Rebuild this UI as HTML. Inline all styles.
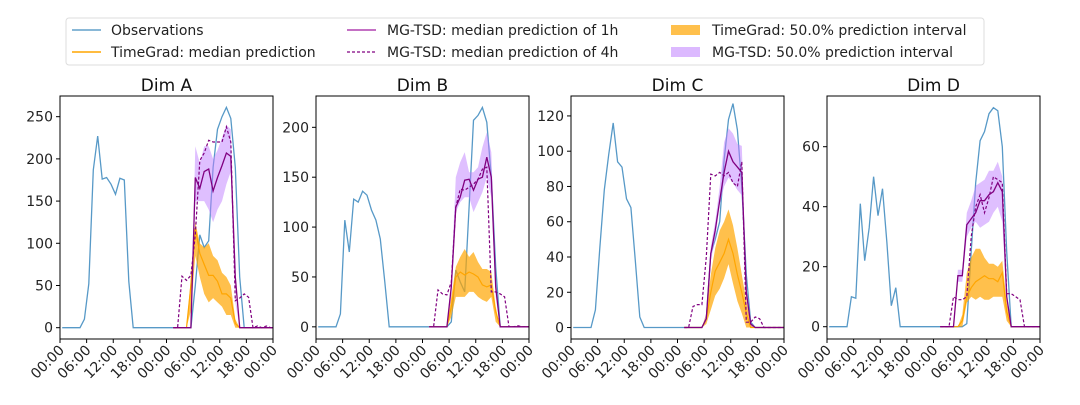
<!DOCTYPE html>
<html><head><meta charset="utf-8"><style>
body{margin:0;background:#fff;}
svg{display:block;font-family:"DejaVu Sans","Liberation Sans",sans-serif;}
</style></head><body>
<svg id="fig" width="1080" height="405" viewBox="0 0 1080 405">
<g>
<rect x="66" y="18" width="918" height="47" rx="3" fill="#fff" stroke="#ddd"/>
<line x1="72" y1="30" x2="101" y2="30" stroke="#1f77b4" stroke-opacity="0.7" stroke-width="1.5"/>
<text x="111" y="35" font-size="14" fill="#222">Observations</text>
<line x1="72" y1="52" x2="101" y2="52" stroke="#ffa500" stroke-width="1.5"/>
<text x="111" y="57" font-size="14" fill="#222">TimeGrad: median prediction</text>
<line x1="347" y1="30" x2="376" y2="30" stroke="#b040b0" stroke-width="1.5"/>
<text x="387" y="35" font-size="14" fill="#222">MG-TSD: median prediction of 1h</text>
<line x1="347" y1="52" x2="376" y2="52" stroke="#800080" stroke-width="1.2" stroke-dasharray="3,2"/>
<text x="387" y="57" font-size="14" fill="#222">MG-TSD: median prediction of 4h</text>
<rect x="671" y="25" width="29" height="10" fill="#ffa500" fill-opacity="0.7"/>
<text x="712" y="35" font-size="14" fill="#222">TimeGrad: 50.0% prediction interval</text>
<rect x="671" y="47" width="29" height="10" fill="#c080ff" fill-opacity="0.55"/>
<text x="712" y="57" font-size="14" fill="#222">MG-TSD: 50.0% prediction interval</text>
</g>
</svg>
<script>
// Shared x tick labels (hours 0..48 every 6)
const xTickHours = [0,6,12,18,24,30,36,42,48];
const xTickLabels = ["00:00","06:00","12:00","18:00","00:00","06:00","12:00","18:00","00:00"];
const panelTitles = ["Dim A","Dim B","Dim C","Dim D"];
const yTicksA = [0,50,100,150,200,250];
const yTicksB = [0,50,100,150,200];
const yTicksC = [0,20,40,60,80,100,120];
const yTicksD = [0,20,40,60];
// Observations, hourly 0..48
const obsA = [0,0,0,0,0,10,52,187,227,176,178,170,158,177,175,55,0,0,0,0,0,0,0,0,0,0,0,0,0,0,50,110,95,103,190,235,250,261,248,190,60,0,0,0,0,0,0,0,0];
const obsB = [0,0,0,0,0,13,107,75,128,125,136,132,117,107,88,45,0,0,0,0,0,0,0,0,0,0,0,0,0,0,5,57,45,35,120,207,212,220,205,150,60,0,0,0,0,0,0,0,0];
const obsC = [0,0,0,0,0,10,45,78,98,116,94,91,73,68,38,6,0,0,0,0,0,0,0,0,0,0,0,0,0,0,5,42,50,60,95,118,127,112,80,30,3,0,0,0,0,0,0,0,0];
const obsD = [0,0,0,0,0,10,9.5,41,22,33,50,37,46,28,7,13,0,0,0,0,0,0,0,0,0,0,0,0,0,0,0,1,25,48,62,65,71,73,72,60,25,0,0,0,0,0,0,0,0];
// Forecast hours 25..48
const fcStart = 25;
const mg1hA = [0,0,0,0,0,178,165,185,188,162,178,192,207,203,60,0,0,0,0,0,0,0,0,0];
const mg4hA = [0,0,61,56,62,110,198,207,222,220,220,220,238,220,32,35,40,36,0,2,0,2,0,0];
const mgLoA = [0,0,0,0,0,150,150,150,140,125,140,150,170,185,30,0,0,0,0,0,0,0,0,0];
const mgHiA = [0,0,0,0,0,215,195,215,215,200,210,225,240,235,40,0,0,0,0,0,0,0,0,0];
const tgA   = [0,0,0,0,50,118,88,75,62,62,55,40,40,35,5,0,0,0,0,0,0,0,0,0];
const tgLoA = [0,0,0,0,20,85,60,40,30,35,30,25,15,15,0,0,0,0,0,0,0,0,0,0];
const tgHiA = [0,0,0,0,60,125,100,95,100,85,80,65,60,50,10,0,0,0,0,0,0,0,0,0];

const mg1hB = [0,0,0,0,0,40,120,130,147,148,137,148,150,170,150,40,0,0,0,0,0,0,0,0];
const mg4hB = [0,0,37,33,32,45,120,138,137,140,143,148,158,160,35,35,33,30,0,0,1,0,0,0];
const mgLoB = [0,0,0,0,0,30,115,125,130,130,115,125,135,150,130,30,0,0,0,0,0,0,0,0];
const mgHiB = [0,0,0,0,0,50,150,165,175,155,155,160,180,195,175,50,0,0,0,0,0,0,0,0];
const tgB   = [0,0,0,0,0,20,50,55,52,55,53,50,42,40,42,15,0,0,0,0,0,0,0,0];
const tgLoB = [0,0,0,0,0,10,30,30,30,35,35,30,27,25,30,5,0,0,0,0,0,0,0,0];
const tgHiB = [0,0,0,0,0,30,60,70,78,70,75,65,58,58,55,20,0,0,0,0,0,0,0,0];

const mg1hC = [0,0,0,0,0,5,42,55,72,88,100,94,91,88,20,2,0,0,0,0,0,0,0,0];
const mg4hC = [0,0,12,13,13,40,87,86,88,86,88,82,80,94,3,3,6,5,0,0,0,0,0,0];
const mgLoC = [0,0,0,0,0,4,38,50,70,80,85,82,78,75,18,0,0,0,0,0,0,0,0,0];
const mgHiC = [0,0,0,0,0,8,46,60,80,105,113,110,104,103,25,3,0,0,0,0,0,0,0,0];
const tgC   = [0,0,0,0,0,5,20,32,37,42,50,42,30,20,8,0,0,0,0,0,0,0,0,0];
const tgLoC = [0,0,0,0,0,2,10,18,22,28,36,25,15,8,0,0,0,0,0,0,0,0,0,0];
const tgHiC = [0,0,0,0,0,8,30,45,55,60,67,58,45,30,15,2,0,0,0,0,0,0,0,0];

const mg1hD = [0,0,0,0,17,17,34,36,38,42,42,44,45,48,45,10,0,0,0,0,0,0,0,0];
const mg4hD = [0,0,0,10,9,9,10,30,40,44,38,43,50,49,48,11,11,10,9,0,0,0,0,0];
const mgLoD = [0,0,0,0,15,15,30,33,35,33,34,35,38,40,35,8,0,0,0,0,0,0,0,0];
const mgHiD = [0,0,0,0,19,19,38,42,47,48,49,52,52,55,50,12,0,0,0,0,0,0,0,0];
const tgD   = [0,0,0,0,0,2,10,13,15,16,17,16,16,15,18,5,0,0,0,0,0,0,0,0];
const tgLoD = [0,0,0,0,0,0,8,10,9,10,9,9,10,10,10,2,0,0,0,0,0,0,0,0];
const tgHiD = [0,0,0,0,0,4,18,23,26,26,23,21,21,20,22,8,0,0,0,0,0,0,0,0];

const NS = "http://www.w3.org/2000/svg";
const svg = document.getElementById('fig');
function mk(tag, attrs, parent){const e=document.createElementNS(NS,tag);for(const k in attrs)e.setAttribute(k,attrs[k]);parent.appendChild(e);return e;}

const panels = [
 {left:60, ymin:-13.4, ymax:274.5, yt:yTicksA, obs:obsA, m1:mg1hA, m4:mg4hA, ml:mgLoA, mh:mgHiA, t:tgA, tl:tgLoA, th:tgHiA},
 {left:316, ymin:-12.2, ymax:231.4, yt:yTicksB, obs:obsB, m1:mg1hB, m4:mg4hB, ml:mgLoB, mh:mgHiB, t:tgB, tl:tgLoB, th:tgHiB},
 {left:571, ymin:-6.5, ymax:131.3, yt:yTicksC, obs:obsC, m1:mg1hC, m4:mg4hC, ml:mgLoC, mh:mgHiC, t:tgC, tl:tgLoC, th:tgHiC},
 {left:827, ymin:-4.1, ymax:76.9, yt:yTicksD, obs:obsD, m1:mg1hD, m4:mg4hD, ml:mgLoD, mh:mgHiD, t:tgD, tl:tgLoD, th:tgHiD}
];
const TOP=96, BOT=339, W=213, SHIFT=0.5;
panels.forEach((p,i)=>{
  const g = mk('g',{},svg);
  
  
  const X = h => p.left + h/48*W;
  const Y = v => BOT - (v - p.ymin)/(p.ymax - p.ymin)*(BOT-TOP);
  const line = (arr, off) => arr.map((v,k)=>(k?'L':'M')+X(k+off+SHIFT).toFixed(1)+','+Y(v).toFixed(1)).join('');
  const band = (lo, hi, off) => {
    let d = hi.map((v,k)=>(k?'L':'M')+X(k+off+SHIFT).toFixed(1)+','+Y(v).toFixed(1)).join('');
    for(let k=lo.length-1;k>=0;k--) d+='L'+X(k+off+SHIFT).toFixed(1)+','+Y(lo[k]).toFixed(1);
    return d+'Z';
  };
  const cp = mk('clipPath',{id:'cp'+i},g);
  mk('rect',{x:p.left,y:TOP,width:W,height:BOT-TOP},cp);
  const plot = mk('g',{'clip-path':'url(#cp'+i+')'},g);
  let e;
  e = mk('path',{d:line(p.obs,0),fill:'none',stroke:'#1f77b4','stroke-opacity':0.75,'stroke-width':1.3},plot);
  
  
  e = mk('path',{d:band(p.tl,p.th,fcStart),fill:'#ffa500','fill-opacity':0.7},plot);
  
  
  e = mk('path',{d:band(p.ml,p.mh,fcStart),fill:'#c080ff','fill-opacity':0.5},plot);
  
  
  e = mk('path',{d:line(p.t,fcStart),fill:'none',stroke:'#ffa500','stroke-width':1.2},plot);
  
  
  e = mk('path',{d:line(p.m4,fcStart),fill:'none',stroke:'#800080','stroke-width':1.2,'stroke-dasharray':'3,2'},plot);
  
  
  e = mk('path',{d:line(p.m1,fcStart),fill:'none',stroke:'#800080','stroke-width':1.3},plot);
  
  
  e = mk('rect',{x:p.left,y:TOP,width:W,height:BOT-TOP,fill:'none',stroke:'#000','stroke-width':1},g);
  
  
  e = mk('text',{x:p.left+W/2,y:91,'text-anchor':'middle','font-size':17,fill:'#111'},g);
  e.textContent = panelTitles[i];
  
  
  p.yt.forEach(v=>{
    mk('line',{x1:p.left-4,x2:p.left,y1:Y(v),y2:Y(v),stroke:'#000'},g);
    const t = mk('text',{x:p.left-7,y:Y(v)+5,'text-anchor':'end','font-size':14,fill:'#222'},g);
    t.textContent = v;
    
    
  });
  xTickHours.forEach((h,k)=>{
    mk('line',{x1:X(h),x2:X(h),y1:BOT,y2:BOT+4,stroke:'#000'},g);
    const tx = X(h)+5, ty = BOT+12;
    const t = mk('text',{x:tx,y:ty,'text-anchor':'end','font-size':14,fill:'#222',transform:'rotate(-45 '+tx+' '+ty+')'},g);
    t.textContent = xTickLabels[k];
    
    
  });
});
</script>
</body></html>
